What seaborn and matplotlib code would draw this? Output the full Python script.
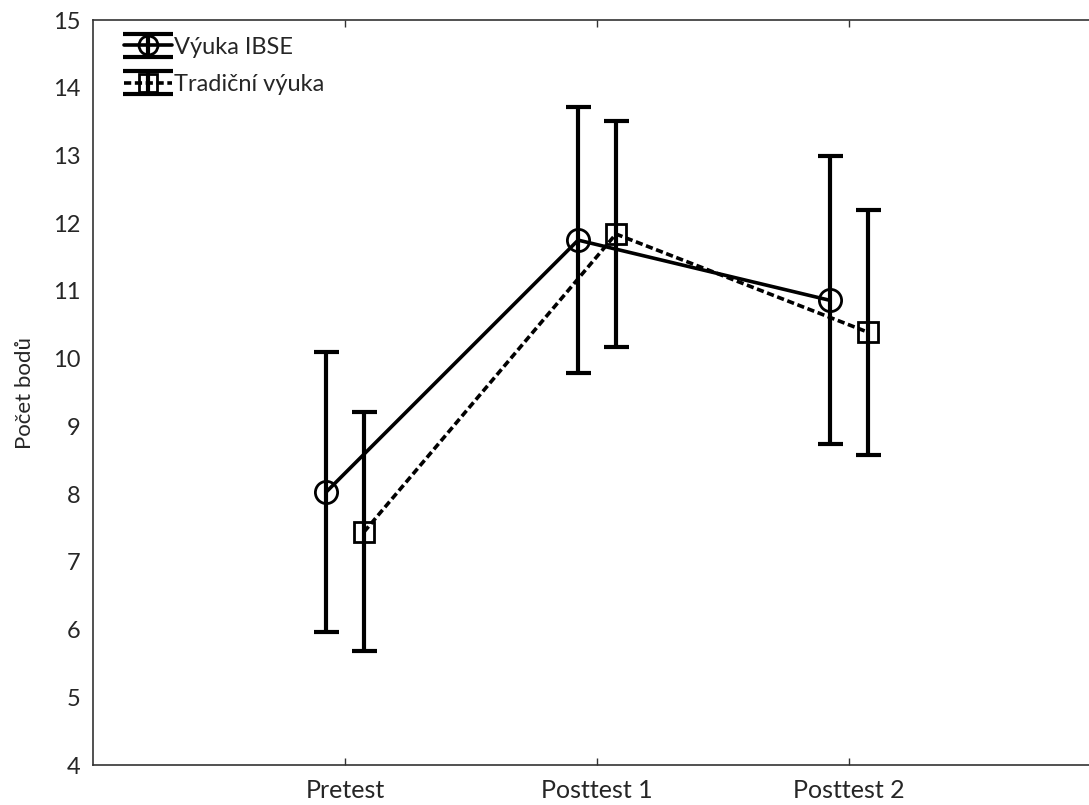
import numpy as np
import pandas as pd
import matplotlib
matplotlib.use("Agg")
import matplotlib.pyplot as plt
import seaborn as sns
from matplotlib.container import ErrorbarContainer
from matplotlib.lines import Line2D
from matplotlib.legend_handler import HandlerErrorbar

# data
phases = ["Pretest", "Posttest 1", "Posttest 2"]
groups = ["Výuka IBSE", "Tradiční výuka"]
ibse_mean = [8.03, 11.75, 10.86]
ibse_low = [5.97, 9.79, 8.74]
ibse_high = [10.10, 13.71, 12.99]
trad_mean = [7.44, 11.84, 10.39]
trad_low = [5.68, 10.17, 8.57]
trad_high = [9.21, 13.51, 12.19]

rows = []
for g, m, lo, hi in [(groups[0], ibse_mean, ibse_low, ibse_high),
                     (groups[1], trad_mean, trad_low, trad_high)]:
    for i, p in enumerate(phases):
        rows.append({"group": g, "phase": p, "idx": i, "mean": m[i], "low": lo[i], "high": hi[i]})
df = pd.DataFrame(rows)

sns.set_style("white")
plt.rcParams["font.family"] = ["Lato", "DejaVu Sans"]

fig = plt.figure(figsize=(10.89, 8.05), dpi=100)
ax = fig.add_axes([93 / 1089, 1 - 765 / 805, 1 - 93 / 1089, (765 - 20) / 805])

offsets = {groups[0]: -0.075, groups[1]: 0.075}
markers = {groups[0]: "o", groups[1]: "s"}
styles = {groups[0]: "-", groups[1]: (0, (2, 1))}
msize = {groups[0]: 16, groups[1]: 15}

handles = []
for g in groups:
    sub = df[df["group"] == g].copy()
    sub["x"] = sub["idx"] + offsets[g]
    eb = ax.errorbar(sub["x"], sub["mean"],
                     yerr=[sub["mean"] - sub["low"], sub["high"] - sub["mean"]],
                     fmt="none", ecolor="black", elinewidth=3, capsize=9, capthick=3, zorder=2)
    sns.lineplot(data=sub, x="x", y="mean", ax=ax, color="black", linewidth=2.6,
                 linestyle=styles[g], marker=markers[g], markersize=msize[g],
                 markerfacecolor="none", markeredgecolor="black", markeredgewidth=2.0,
                 legend=False, zorder=3)
    line = ax.lines[-1]
    # wider caps for the legend key, like the reference
    cap = Line2D([], [], color="black", marker="_", markersize=36, markeredgewidth=3)
    handles.append(ErrorbarContainer((line, (cap, cap), eb.lines[2]),
                                     has_xerr=False, has_yerr=True, label=g))

ax.set_xlim(-1, 2.952)
ax.set_ylim(4, 15)
ax.set_xticks(range(len(phases)))
ax.set_xticklabels(phases)
ax.set_yticks(range(4, 16))
ax.set_xlabel("")
ax.set_ylabel("Počet bodů", fontsize=16, labelpad=13)
ax.tick_params(axis="x", direction="in", length=5, width=1, top=True, bottom=True,
               labelsize=18, pad=10, color="#333333")
ax.tick_params(axis="y", length=0, labelsize=17, pad=9)

for side in ["left", "top", "bottom"]:
    ax.spines[side].set_color("#333333")
    ax.spines[side].set_linewidth(1.2)
ax.spines["right"].set_visible(False)

leg = ax.legend(handles=handles, loc="upper left", frameon=False, fontsize=17,
                handlelength=2.0, handletextpad=0.1, labelspacing=0.7,
                borderaxespad=0.3, bbox_to_anchor=(0.015, 1.0), markerscale=0.85,
                handler_map={ErrorbarContainer: HandlerErrorbar(yerr_size=0.48)})

fig.savefig("out.png", dpi=100, facecolor="white")
